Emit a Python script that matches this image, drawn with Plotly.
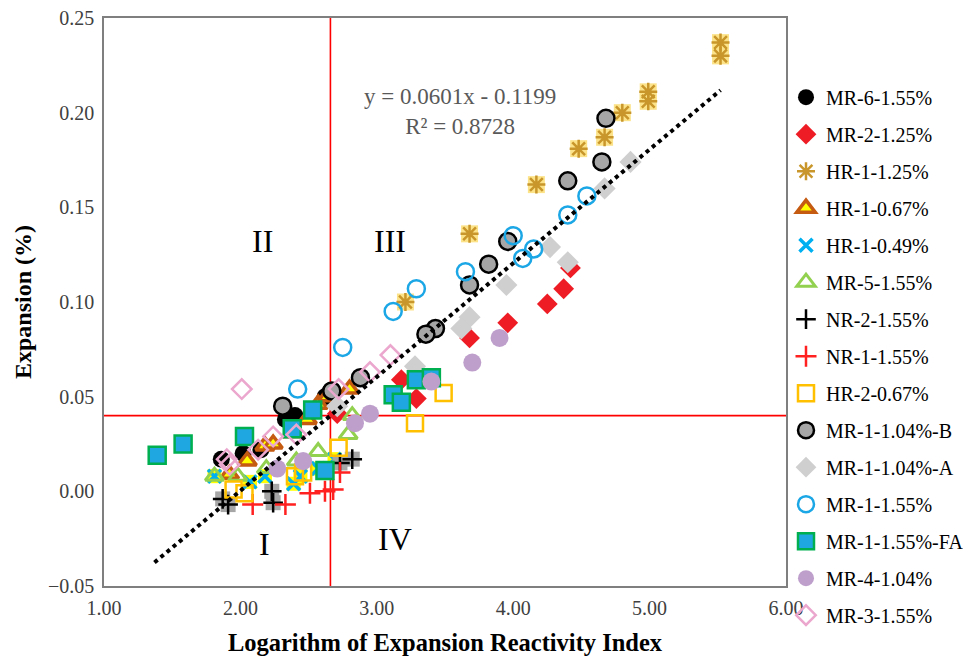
import plotly.graph_objects as go

# ---------------- data ----------------
series_names = ["MR-6-1.55%", "MR-2-1.25%", "HR-1-1.25%", "HR-1-0.67%", "HR-1-0.49%",
                "MR-5-1.55%", "NR-2-1.55%", "NR-1-1.55%", "HR-2-0.67%", "MR-1-1.04%-B",
                "MR-1-1.04%-A", "MR-1-1.55%", "MR-1-1.55%-FA", "MR-4-1.04%", "MR-3-1.55%"]

mr6_x = [1.86, 2.02, 2.15, 2.33, 2.40, 2.62, 2.66]
mr6_y = [0.017, 0.020, 0.022, 0.038, 0.040, 0.050, 0.053]

mr2_x = [4.42, 4.37, 4.25, 3.96, 3.68, 3.18, 3.29, 2.71]
mr2_y = [0.118, 0.107, 0.099, 0.089, 0.081, 0.059, 0.049, 0.041]

hr1_125_x = [5.52, 5.52, 4.99, 4.99, 4.80, 4.67, 4.48, 4.17, 3.68, 3.21]
hr1_125_y = [0.237, 0.230, 0.211, 0.206, 0.200, 0.187, 0.181, 0.162, 0.136, 0.100]

hr1_067_x = [1.92, 2.05, 2.18, 2.24, 2.38, 2.49, 2.57, 2.64, 2.80]
hr1_067_y = [0.009, 0.016, 0.024, 0.025, 0.031, 0.038, 0.046, 0.050, 0.054]

hr1_049_x = [1.81, 2.07, 2.18, 2.39, 2.44, 2.57, 2.69]
hr1_049_y = [0.008, 0.005, 0.008, 0.004, 0.008, 0.012, 0.017]

mr5_x = [1.81, 1.98, 2.19, 2.41, 2.57, 2.79, 2.82]
mr5_y = [0.008, 0.008, 0.012, 0.016, 0.021, 0.030, 0.040]

nr2_x = [1.87, 1.91, 2.23, 2.24, 2.73, 2.82]
nr2_y = [-0.004, -0.007, 0.000, -0.006, 0.015, 0.017]

nr1_x = [2.09, 2.33, 2.51, 2.62, 2.68, 2.73]
nr1_y = [-0.007, -0.007, -0.001, 0.000, 0.001, 0.010]

hr2_x = [3.49, 3.28, 2.72, 2.46, 2.40, 1.95, 2.03]
hr2_y = [0.052, 0.036, 0.023, 0.010, 0.008, 0.001, -0.001]

mr1b_x = [4.68, 4.65, 4.40, 3.96, 3.82, 3.68, 3.43, 3.36, 2.88, 2.67, 2.31]
mr1b_y = [0.197, 0.174, 0.164, 0.132, 0.120, 0.109, 0.086, 0.083, 0.060, 0.053, 0.045]

mr1a_x = [4.86, 4.67, 4.40, 4.27, 3.95, 3.68, 3.62, 3.28, 2.71]
mr1a_y = [0.174, 0.160, 0.121, 0.129, 0.109, 0.092, 0.086, 0.066, 0.045]

mr1_155_x = [4.54, 4.40, 4.15, 4.07, 4.00, 3.65, 3.29, 3.12, 2.75, 2.42]
mr1_155_y = [0.156, 0.146, 0.128, 0.123, 0.135, 0.116, 0.107, 0.095, 0.076, 0.054]

mr1fa_x = [1.39, 1.58, 2.03, 2.38, 2.53, 2.62, 3.12, 3.18, 3.29, 3.40]
mr1fa_y = [0.019, 0.025, 0.029, 0.033, 0.043, 0.011, 0.051, 0.047, 0.059, 0.060]

mr4_x = [3.90, 3.70, 3.40, 2.95, 2.84, 2.46, 2.27]
mr4_y = [0.081, 0.068, 0.058, 0.041, 0.036, 0.016, 0.012]

mr3_x = [2.01, 1.90, 1.92, 2.13, 2.24, 2.41, 2.72, 2.95, 3.10]
mr3_y = [0.054, 0.017, 0.014, 0.022, 0.029, 0.030, 0.054, 0.063, 0.072]

trend_slope = 0.0601
trend_intercept = -0.1199
trend_x_range = [1.37, 5.52]

threshold_x = 2.66
threshold_y = 0.04

x_ticks = [1, 2, 3, 4, 5, 6]
y_ticks = [-0.05, 0.0, 0.05, 0.10, 0.15, 0.20, 0.25]

# ---------------- figure ----------------
SERIF = "Liberation Serif, Times New Roman, serif"
fig = go.Figure()


def add(name, xs, ys, marker, showlegend=True, group=None):
    fig.add_trace(go.Scatter(
        x=xs, y=ys, mode="markers", name=name, marker=marker,
        showlegend=showlegend, legendgroup=group or name,
    ))


add(series_names[0], mr6_x, mr6_y, dict(symbol="circle", size=17, color="#000000"))
add(series_names[1], mr2_x, mr2_y, dict(symbol="diamond", size=16, color="#EE1C24"))
# HR-1-1.25%: yellow square under a gold asterisk
add(series_names[2] + "_bg", hr1_125_x, hr1_125_y,
    dict(symbol="square", size=17, color="#FCE38A"), showlegend=False, group=series_names[2])
add(series_names[2], hr1_125_x, hr1_125_y,
    dict(symbol="asterisk-open", size=15, color="#C8962A", line=dict(color="#C8962A", width=2.5)))
add(series_names[3], hr1_067_x, hr1_067_y,
    dict(symbol="triangle-up", size=16, color="#FFFF00", line=dict(color="#C55A11", width=3.5)))
# HR-1-0.49%: yellow square under a blue X
add(series_names[4] + "_bg", hr1_049_x, hr1_049_y,
    dict(symbol="square", size=14, color="#FFFF00"), showlegend=False, group=series_names[4])
add(series_names[4], hr1_049_x, hr1_049_y,
    dict(symbol="x-thin-open", size=13, color="#00B0F0", line=dict(color="#00B0F0", width=3.5)))
add(series_names[5], mr5_x, mr5_y,
    dict(symbol="triangle-up-open", size=16, color="#92D050", line=dict(color="#92D050", width=3)))
# NR-2-1.55%: gray square under a black plus
add(series_names[6] + "_bg", nr2_x, nr2_y,
    dict(symbol="square", size=15, color="#A6A6A6"), showlegend=False, group=series_names[6])
add(series_names[6], nr2_x, nr2_y,
    dict(symbol="cross-thin-open", size=14, color="#000000", line=dict(color="#000000", width=2.5)))
add(series_names[7], nr1_x, nr1_y,
    dict(symbol="cross-thin-open", size=15, color="#FF2020", line=dict(color="#FF2020", width=2.5)))
add(series_names[8], hr2_x, hr2_y,
    dict(symbol="square-open", size=16, color="#FFC000", line=dict(color="#FFC000", width=2.5)))
add(series_names[9], mr1b_x, mr1b_y,
    dict(symbol="circle", size=17, color="#A6A6A6", line=dict(color="#000000", width=2.5)))
add(series_names[10], mr1a_x, mr1a_y, dict(symbol="diamond", size=17, color="#CFCFCF"))
add(series_names[11], mr1_155_x, mr1_155_y,
    dict(symbol="circle-open", size=17, color="#1BA6E6", line=dict(color="#1BA6E6", width=2.5)))
add(series_names[12], mr1fa_x, mr1fa_y,
    dict(symbol="square", size=17, color="#1EA7E1", line=dict(color="#00B050", width=2.5)))
add(series_names[13], mr4_x, mr4_y, dict(symbol="circle", size=18, color="#BE9FCC"))
add(series_names[14], mr3_x, mr3_y,
    dict(symbol="diamond-open", size=15, color="#EBA7CD", line=dict(color="#EBA7CD", width=2.5)))

# linear trendline
trend_y = [trend_slope * v + trend_intercept for v in trend_x_range]
fig.add_trace(go.Scatter(
    x=trend_x_range, y=trend_y, mode="lines", showlegend=False,
    line=dict(color="#000000", width=4, dash="dot"), hoverinfo="skip",
))

# threshold lines
fig.add_shape(type="line", xref="x", yref="paper", x0=threshold_x, x1=threshold_x, y0=0, y1=1,
              line=dict(color="#FF0000", width=1.6), layer="below")
fig.add_shape(type="line", xref="paper", yref="y", x0=0, x1=1, y0=threshold_y, y1=threshold_y,
              line=dict(color="#FF0000", width=1.6), layer="below")

# quadrant labels
for txt, xx, yy in [("II", 2.16, 0.132), ("III", 3.10, 0.132), ("I", 2.18, -0.028), ("IV", 3.13, -0.025)]:
    fig.add_annotation(x=xx, y=yy, text=txt, showarrow=False,
                       font=dict(family=SERIF, size=32, color="#000000"))

fig.add_annotation(x=3.61, y=0.2005,
                   text="y = 0.0601x - 0.1199<br>R² = 0.8728", showarrow=False,
                   font=dict(family=SERIF, size=23, color="#595959"))

axis_common = dict(showgrid=False, zeroline=False, showline=True, mirror=True,
                   linecolor="#7F7F7F", linewidth=1.5, ticks="", automargin=False,
                   ticklabeloverflow="allow",
                   tickfont=dict(family=SERIF, size=20, color="#404040"))

fig.update_xaxes(range=[1, 6], tickvals=x_ticks, tickformat=".2f", ticklabelstandoff=3,
                 title=dict(text="<b>Logarithm of Expansion Reactivity Index</b>",
                            font=dict(family=SERIF, size=24.5, color="#000000"), standoff=16),
                 **axis_common)
fig.update_yaxes(range=[-0.05, 0.25], tickvals=y_ticks, tickformat=".2f", ticklabelstandoff=4,
                 title=dict(text="<b>Expansion (%)</b>",
                            font=dict(family=SERIF, size=24, color="#000000"), standoff=10),
                 **axis_common)

# page body adds an 8px offset; the figure extends slightly past the right window edge
fig.update_layout(
    width=976, height=650,
    margin=dict(l=96, r=198, t=10, b=72),
    paper_bgcolor="#FFFFFF", plot_bgcolor="#FFFFFF",
    legend=dict(x=1.0, y=0.895, xanchor="left", yanchor="top",
                font=dict(family=SERIF, size=20, color="#000000"),
                tracegroupgap=8, itemwidth=30, maxheight=640,
                bgcolor="rgba(0,0,0,0)"),
    showlegend=True,
)

fig.write_html("out.html")
